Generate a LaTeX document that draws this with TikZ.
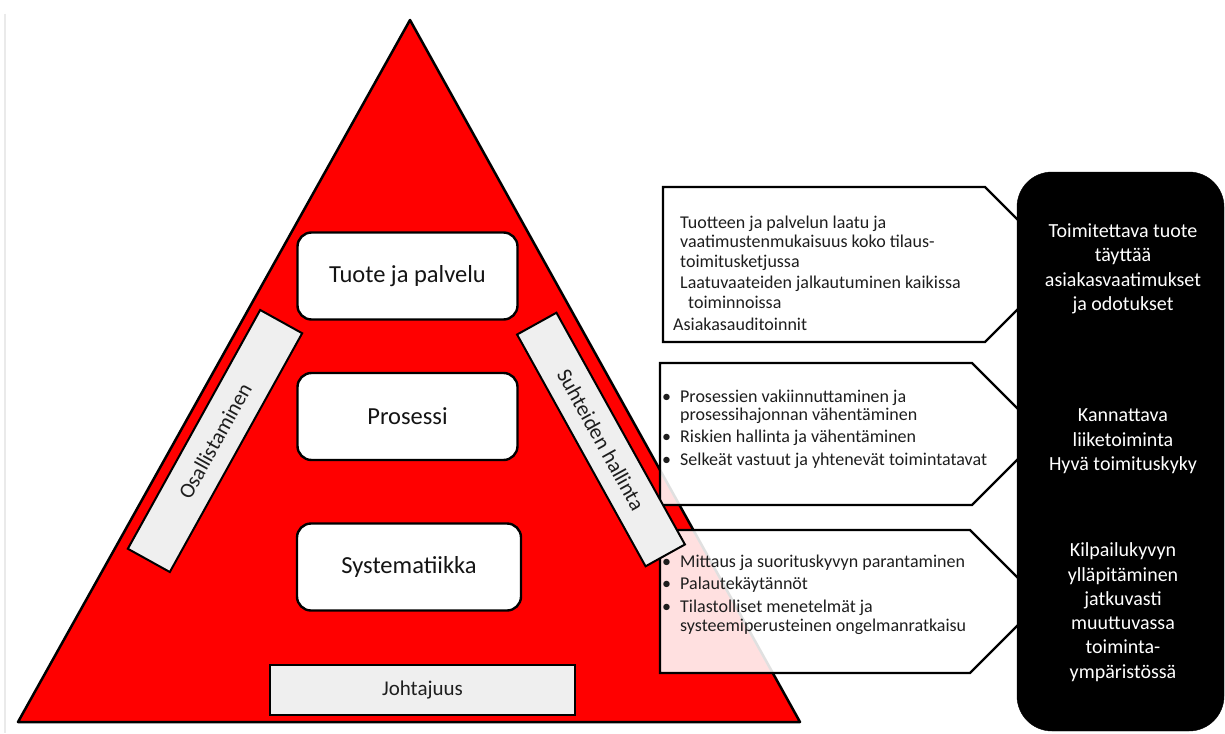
\documentclass[tikz,border=0pt]{standalone}
\usepackage{fontspec}
\setmainfont{Carlito}
\definecolor{pyrred}{HTML}{FF0000}
\definecolor{grayfill}{HTML}{EFEFEF}
\definecolor{txt}{HTML}{141414}
\definecolor{txttwo}{HTML}{1E1E1E}
\definecolor{framecol}{HTML}{EAEAEA}
\newcommand\mybul{\makebox[18pt][l]{•}}
\begin{document}
\begin{tikzpicture}[x=1pt,y=-1pt,
  mainbox/.style={draw=black, line width=2.4pt, fill=white, rounded corners=14pt,
    minimum width=220pt, minimum height=87pt, inner sep=0pt,
    font=\fontsize{24.5}{29}\selectfont, text=txt},
  graybox/.style={draw=black, line width=2pt, fill=grayfill, inner sep=0pt,
    font=\fontsize{21.5}{26}\selectfont, text=txttwo},
  pent/.style={draw=black, line width=2.4pt, fill=white, fill opacity=0.88},
  boxtxt/.style={font=\fontsize{18}{20}\selectfont, text=txttwo, anchor=base west, inner sep=0pt},
  blacktxt/.style={font=\fontsize{20}{24.5}\selectfont, text=white, anchor=base, inner sep=0pt}]
\useasboundingbox (0,0) rectangle (1225,733);
\fill[white] (0,0) rectangle (1225,733);
\draw[framecol, line width=1.2pt] (5,14) -- (5,733);
% pyramid
\coordinate (apex) at (410,20);
\coordinate (br) at (800,722);
\coordinate (bl) at (18,722);
\draw[line width=2.5pt, fill=pyrred, line join=round] (apex) -- (br) -- (bl) -- cycle;
% main boxes
\node[mainbox] (tuote) at (407.5,276) {Tuote ja palvelu};
\node[mainbox] (pros) at (407.5,416.5) {Prosessi};
\node[mainbox, minimum width=224pt] (syst) at (409,567) {Systematiikka};
% pentagon boxes
\draw[pent] (663,187) -- (985,187) -- (1062.5,264.5) -- (985,342) -- (663,342) -- cycle;
\draw[pent] (660,363) -- (972,363) -- (1043,434) -- (972,505) -- (660,505) -- cycle;
\draw[pent] (660,530) -- (970,530) -- (1041.5,601.5) -- (970,673) -- (660,673) -- cycle;
% black box
\draw[fill=black, rounded corners=35pt] (1017,172) rectangle (1224,731);
% pentagon texts
\node[boxtxt] (p1a) at (680,228) {Tuotteen ja palvelun laatu ja};
\node[boxtxt] (p1b) at (680,247) {vaatimustenmukaisuus koko tilaus-};
\node[boxtxt] (p1c) at (680,267) {toimitusketjussa};
\node[boxtxt] (p1d) at (680,288) {Laatuvaateiden jalkautuminen kaikissa};
\node[boxtxt] (p1e) at (688,308) {toiminnoissa};
\node[boxtxt] (p1f) at (673,330) {Asiakasauditoinnit};
\node[boxtxt] (p2a) at (662,402) {\mybul Prosessien vakiinnuttaminen ja};
\node[boxtxt] (p2b) at (680,420) {prosessihajonnan vähentäminen};
\node[boxtxt] (p2c) at (662,442) {\mybul Riskien hallinta ja vähentäminen};
\node[boxtxt] (p2d) at (662,465) {\mybul Selkeät vastuut ja yhtenevät toimintatavat};
\node[boxtxt] (p3a) at (662,567) {\mybul Mittaus ja suorituskyvyn parantaminen};
\node[boxtxt] (p3b) at (662,589) {\mybul Palautekäytännöt};
\node[boxtxt] (p3c) at (662,612) {\mybul Tilastolliset menetelmät ja};
\node[boxtxt] (p3d) at (680,631) {systeemiperusteinen ongelmanratkaisu};
% black box texts
\node[blacktxt] (b1a) at (1123,237) {Toimitettava tuote};
\node[blacktxt] (b1b) at (1123,261.5) {täyttää};
\node[blacktxt] (b1c) at (1123,286) {asiakasvaatimukset};
\node[blacktxt] (b1d) at (1123,310.5) {ja odotukset};
\node[blacktxt] (b2a) at (1123,421) {Kannattava};
\node[blacktxt] (b2b) at (1123,446) {liiketoiminta};
\node[blacktxt] (b2c) at (1123,470) {Hyvä toimituskyky};
\node[blacktxt] (b3a) at (1123,556) {Kilpailukyvyn};
\node[blacktxt] (b3b) at (1123,581) {ylläpitäminen};
\node[blacktxt] (b3c) at (1123,605) {jatkuvasti};
\node[blacktxt] (b3d) at (1123,629) {muuttuvassa};
\node[blacktxt] (b3e) at (1123,653) {toiminta-};
\node[blacktxt] (b3f) at (1123,678) {ympäristössä};
% tilted bars
\node[graybox, minimum width=273pt, minimum height=48pt, rotate=61] (osal) at (215,441) {Osallistaminen};
\node[graybox, minimum width=265pt, minimum height=45pt, rotate=-61] (suht) at (601,439.5) {Suhteiden hallinta};
% base bar
\node[graybox, line width=2.8pt, minimum width=305pt, minimum height=50pt,
  font=\fontsize{21}{25}\selectfont] (joht) at (422.5,690) {Johtajuus};
\end{tikzpicture}
\end{document}
